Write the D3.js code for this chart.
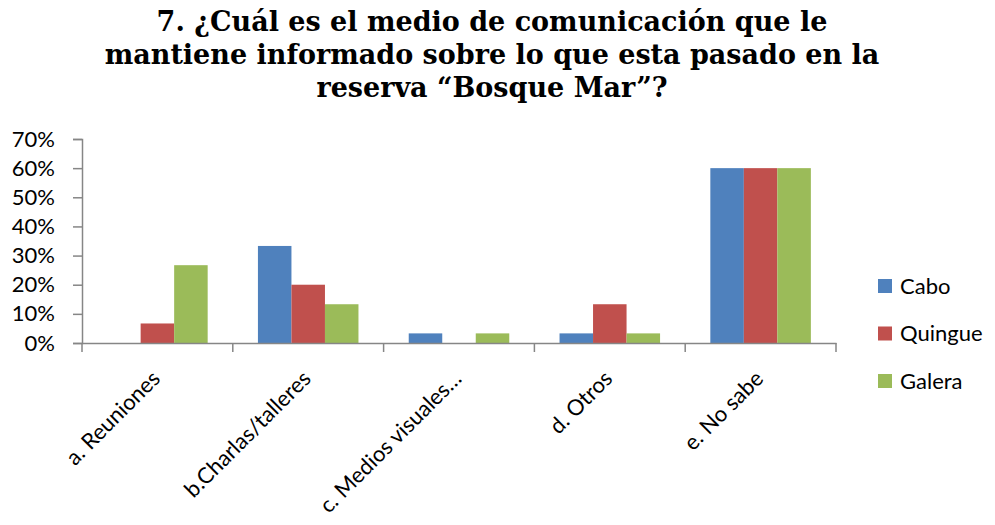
<!DOCTYPE html>
<html>
<head>
<meta charset="utf-8">
<script src="https://cdn.jsdelivr.net/npm/d3@7"></script>
<style>
  body { margin: 0; background: #fff; }
  svg { display: block; }
</style>
</head>
<body>
<script>
// chart data
const categories = ["a. Reuniones", "b.Charlas/talleres", "c. Medios visuales…", "d. Otros", "e. No sabe"];
const seriesNames = ["Cabo", "Quingue", "Galera"];
const colors = ["#4F81BD", "#C0504D", "#9BBB59"];
const cabo = [0, 0.333, 0.033, 0.033, 0.60];
const quingue = [0.067, 0.20, 0, 0.133, 0.60];
const galera = [0.267, 0.133, 0.033, 0.033, 0.60];
const yTicks = [0, 0.1, 0.2, 0.3, 0.4, 0.5, 0.6, 0.7];
const titleLines = [
    "7. ¿Cuál es el medio de comunicación que le",
    "mantiene informado sobre lo que esta pasado en la",
    "reserva “Bosque Mar”?"
];

const W = 995, H = 525;
const plotLeft = 82, plotRight = 836, plotTop = 139, plotBottom = 343;

const svg = d3.select("body").append("svg")
    .attr("width", W)
    .attr("height", H);

// title
svg.append("g").selectAll("text")
    .data(titleLines)
    .enter()
    .append("text")
    .attr("x", 492)
    .attr("y", (d, i) => 31 + i * 33)
    .attr("text-anchor", "middle")
    .attr("font-family", "'DejaVu Serif', serif")
    .attr("font-weight", "bold")
    .attr("font-size", 27)
    .attr("fill", "#000")
    .text(d => d);

// scales
const x = d3.scaleBand()
    .domain(categories)
    .range([plotLeft, plotRight]);

const inner = d3.scaleBand()
    .domain(seriesNames)
    .range([x.bandwidth() / 6, x.bandwidth() * 5 / 6]);

const y = d3.scaleLinear()
    .domain([0, 0.7])
    .range([plotBottom, plotTop]);

const table = seriesNames.map((name, i) => ({
    name: name,
    color: colors[i],
    values: [cabo, quingue, galera][i]
}));

// bars
svg.append("g").selectAll("g")
    .data(table)
    .enter()
    .append("g")
    .attr("fill", d => d.color)
    .selectAll("rect")
    .data(d => d.values.map((v, j) => ({name: d.name, cat: categories[j], v: v})))
    .enter()
    .append("rect")
    .attr("x", d => x(d.cat) + inner(d.name))
    .attr("y", d => y(d.v))
    .attr("width", inner.bandwidth())
    .attr("height", d => plotBottom - y(d.v));

// y axis
const yAxis = svg.append("g")
    .attr("transform", `translate(${plotLeft},0)`)
    .call(d3.axisLeft(y).tickValues(yTicks).tickFormat(d3.format(".0%")).tickSize(9).tickPadding(18));

// x axis
const xAxis = svg.append("g")
    .attr("transform", `translate(0,${plotBottom})`)
    .call(d3.axisBottom(x).tickSize(0).tickFormat(""));

// category ticks at band edges
xAxis.selectAll(".edge")
    .data(categories.concat(["end"]))
    .enter()
    .append("line")
    .attr("class", "edge")
    .attr("x1", (d, i) => i < categories.length ? x(d) : plotRight)
    .attr("x2", (d, i) => i < categories.length ? x(d) : plotRight)
    .attr("y1", 0)
    .attr("y2", 9)
    .attr("stroke", "#868686")
    .attr("stroke-width", 1.5);

svg.selectAll(".domain").attr("stroke", "#868686").attr("stroke-width", 1.5);
yAxis.selectAll(".tick line").attr("stroke", "#868686").attr("stroke-width", 1.5);
yAxis.selectAll(".tick text")
    .attr("font-family", "Lato, sans-serif")
    .attr("font-size", 22)
    .attr("fill", "#000");

// category labels
svg.append("g").selectAll("text")
    .data(categories)
    .enter()
    .append("text")
    .attr("transform", d => `translate(${x(d) + x.bandwidth() / 2 + 4},${plotBottom + 37}) rotate(-45)`)
    .attr("text-anchor", "end")
    .attr("font-family", "Lato, sans-serif")
    .attr("font-size", 22)
    .attr("fill", "#000")
    .text(d => d);

// legend
const legend = svg.append("g").selectAll("g")
    .data(table)
    .enter()
    .append("g")
    .attr("transform", (d, i) => `translate(878,${286 + i * 47.5})`);

legend.append("rect")
    .attr("x", 0)
    .attr("y", -7)
    .attr("width", 14)
    .attr("height", 14)
    .attr("fill", d => d.color);

legend.append("text")
    .attr("x", 22)
    .attr("y", 0)
    .attr("dy", "0.35em")
    .attr("font-family", "Lato, sans-serif")
    .attr("font-size", 22)
    .attr("fill", "#000")
    .text(d => d.name);
</script>
</body>
</html>
